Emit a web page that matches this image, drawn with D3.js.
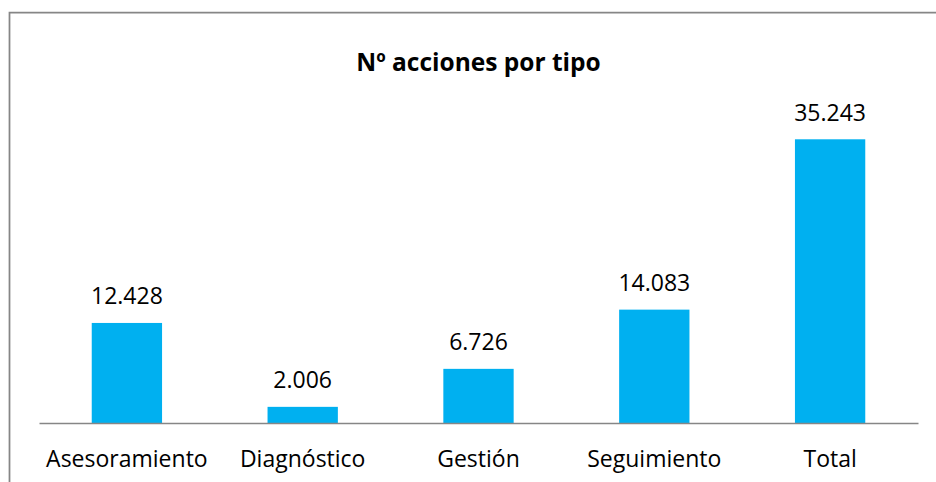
<!DOCTYPE html>
<html>
<head>
<meta charset="utf-8">
<script src="https://cdn.jsdelivr.net/npm/d3@7"></script>
<style>
  body { margin: 0; background: #fff; }
  text { font-family: "Open Sans", sans-serif; fill: #000; }
</style>
</head>
<body>
<div id="chart"></div>
<script>
// datos
const tipos = ["Asesoramiento", "Diagnóstico", "Gestión", "Seguimiento", "Total"];
const acciones = [12428, 2006, 6726, 14083, 35243];
const yMax = 40000;

const W = 936, H = 482;
const margin = { top: 101, right: 18, bottom: 59, left: 39 },
    width = W - margin.left - margin.right,
    height = H - margin.top - margin.bottom;

const svg = d3.select("#chart")
    .append("svg")
    .attr("width", W)
    .attr("height", H);

// marco (solo izquierda y arriba visibles)
svg.append("path")
    .attr("d", `M9.5,${H} V12.5 H${W}`)
    .attr("fill", "none")
    .attr("stroke", "#868686")
    .attr("stroke-width", 1.75);

svg.append("text")
    .attr("x", margin.left + width / 2)
    .attr("y", 71)
    .attr("text-anchor", "middle")
    .style("font-size", "24.5px")
    .style("font-weight", "bold")
    .text("Nº acciones por tipo");

const g = svg.append("g")
    .attr("transform", `translate(${margin.left}, ${margin.top})`);

const x = d3.scaleBand()
    .range([0, width])
    .domain(tipos)
    .paddingInner(0.6)
    .paddingOuter(0.3);

const y = d3.scaleLinear()
    .domain([0, yMax])
    .range([height, 0]);

g.selectAll("rect.bar")
  .data(tipos)
  .enter()
  .append("rect")
    .attr("class", "bar")
    .attr("x", d => x(d))
    .attr("width", x.bandwidth())
    .attr("y", (d, i) => y(acciones[i]))
    .attr("height", (d, i) => height - y(acciones[i]))
    .attr("fill", "#00B0F0");

g.selectAll("text.valor")
  .data(tipos)
  .enter()
  .append("text")
    .attr("class", "valor")
    .attr("x", d => x(d) + x.bandwidth() / 2)
    .attr("y", (d, i) => y(acciones[i]) - 18.5)
    .attr("text-anchor", "middle")
    .style("font-size", "23px")
    .text((d, i) => d3.format(",")(acciones[i]).replace(/,/g, "."));

const xAxis = g.append("g")
    .attr("transform", `translate(0, ${height})`)
    .call(d3.axisBottom(x).tickSize(0).tickSizeOuter(0));
xAxis.select(".domain")
    .attr("stroke", "#868686")
    .attr("stroke-width", 1.5);
xAxis.selectAll("text")
    .attr("dy", null)
    .attr("y", 43.5)
    .style("font-family", "'Open Sans', sans-serif")
    .style("font-size", "23px")
    .attr("fill", "#000");
</script>
</body>
</html>
